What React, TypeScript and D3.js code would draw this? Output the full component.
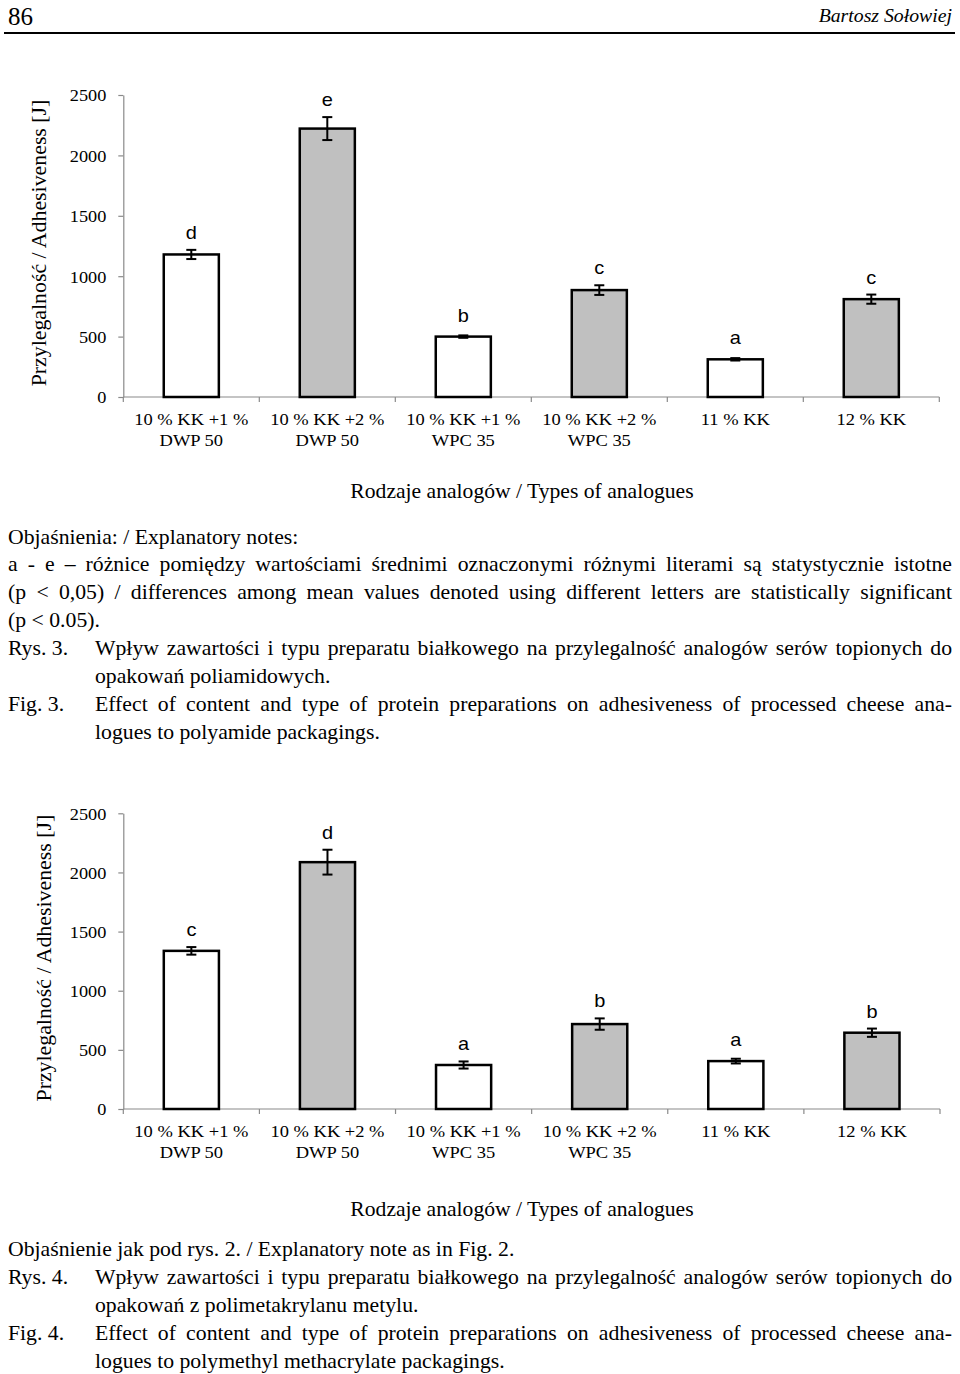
import React, { useEffect, useRef } from "react";
import * as d3 from "d3";

// ---------- data ----------
const categories: string[][] = [
  ["10 % KK +1 %", "DWP 50"],
  ["10 % KK +2 %", "DWP 50"],
  ["10 % KK +1 %", "WPC 35"],
  ["10 % KK +2 %", "WPC 35"],
  ["11 % KK"],
  ["12 % KK"],
];
const barFills = ["#ffffff", "#c0c0c0", "#ffffff", "#c0c0c0", "#ffffff", "#c0c0c0"];

const fig3Means = [1180, 2222, 500, 885, 312, 810];
const fig3Errors = [38, 95, 10, 40, 10, 38];
const fig3Letters = ["d", "e", "b", "c", "a", "c"];

const fig4Means = [1337, 2087, 372, 718, 405, 645];
const fig4Errors = [32, 105, 30, 48, 20, 35];
const fig4Letters = ["c", "d", "a", "b", "a", "b"];

const yTicks = [0, 500, 1000, 1500, 2000, 2500];
const yTitle = "Przylegalność / Adhesiveness [J]";
const xTitle = "Rodzaje analogów / Types of analogues";

const pageNumber = "86";
const author = "Bartosz Sołowiej";

const fig3Notes: string[] = [
  "Objaśnienia: / Explanatory notes:",
  "a - e – różnice pomiędzy wartościami średnimi oznaczonymi różnymi literami są statystycznie istotne",
  "(p < 0,05) / differences among mean values denoted using different letters are statistically significant",
  "(p < 0.05).",
];
const fig3Captions: string[][] = [
  ["Rys. 3.", "Wpływ zawartości i typu preparatu białkowego na przylegalność analogów serów topionych do", "opakowań poliamidowych."],
  ["Fig. 3.", "Effect of content and type of protein preparations on adhesiveness of processed cheese ana-", "logues to polyamide packagings."],
];
const fig4Notes: string[] = ["Objaśnienie jak pod rys. 2. / Explanatory note as in Fig. 2."];
const fig4Captions: string[][] = [
  ["Rys. 4.", "Wpływ zawartości i typu preparatu białkowego na przylegalność analogów serów topionych do", "opakowań z polimetakrylanu metylu."],
  ["Fig. 4.", "Effect of content and type of protein preparations on adhesiveness of processed cheese ana-", "logues to polymethyl methacrylate packagings."],
];

// ---------- style ----------
const SERIF = "Liberation Serif, Times New Roman, serif";
const SANS = "Liberation Sans, Arial, sans-serif";
const SX = 1.05;
const AXIS_COLOR = "#8a8a8a";

type Sel = d3.Selection<any, unknown, null, undefined>;

function addText(
  parent: Sel,
  x: number,
  y: number,
  str: string,
  opts: { size: number; family?: string; anchor?: string; rotate?: number; sx?: number; italic?: boolean }
) {
  const sx = opts.sx ?? SX;
  const rot = opts.rotate ? ` rotate(${opts.rotate})` : "";
  return parent
    .append("text")
    .attr("transform", `translate(${x},${y})${rot} scale(${sx},1)`)
    .attr("text-anchor", opts.anchor ?? "start")
    .attr("font-family", opts.family ?? SERIF)
    .attr("font-size", opts.size)
    .attr("font-style", opts.italic ? "italic" : "normal")
    .attr("fill", "#000")
    .text(str);
}

function justify(t: Sel, x: number, right: number, sx = SX) {
  const node = t.node() as SVGTextElement;
  const natural = node.getComputedTextLength();
  const txt = node.textContent || "";
  const spaces = (txt.match(/ /g) || []).length;
  if (spaces === 0) return;
  const target = (right - x) / sx;
  t.attr("word-spacing", (target - natural) / spaces);
}

function drawChart(
  svg: Sel,
  cfg: {
    left: number;
    right: number;
    top: number;
    bottom: number;
    means: number[];
    errors: number[];
    letters: string[];
    titleX: number;
    xTitleY: number;
  }
) {
  const g = svg.append("g");
  const idx = d3.range(categories.length);
  const x = d3.scaleBand<number>().domain(idx).range([cfg.left, cfg.right]).padding(0);
  const y = d3.scaleLinear().domain([0, 2500]).range([cfg.bottom, cfg.top]);
  const y0 = y(0);
  const barW = x.bandwidth() * 0.405;

  // y axis
  const yAxis = g
    .append("g")
    .attr("transform", `translate(${cfg.left},0)`)
    .call(d3.axisLeft(y).tickValues(yTicks).tickSize(5).tickSizeOuter(0).tickFormat(d3.format("d")));
  yAxis.select(".domain").attr("stroke", AXIS_COLOR).attr("stroke-width", 1.2);
  yAxis.selectAll(".tick line").attr("stroke", AXIS_COLOR).attr("stroke-width", 1.2);
  yAxis
    .selectAll(".tick text")
    .attr("x", -17 / SX)
    .attr("dy", "0.34em")
    .attr("transform", `scale(${SX},1)`)
    .attr("fill", "#000")
    .attr("font-family", SERIF)
    .attr("font-size", 17.4);

  // x axis
  g.append("line")
    .attr("x1", cfg.left)
    .attr("x2", cfg.right)
    .attr("y1", y0)
    .attr("y2", y0)
    .attr("stroke", AXIS_COLOR)
    .attr("stroke-width", 1.2);
  const bounds = idx.map((i) => x(i) as number).concat([cfg.right]);
  g.selectAll(".xtick")
    .data(bounds)
    .enter()
    .append("line")
    .attr("x1", (d) => d)
    .attr("x2", (d) => d)
    .attr("y1", y0)
    .attr("y2", y0 + 5)
    .attr("stroke", AXIS_COLOR)
    .attr("stroke-width", 1.2);

  // bars
  g.selectAll(".bar")
    .data(cfg.means)
    .enter()
    .append("rect")
    .attr("x", (_d, i) => (x(i) as number) + (x.bandwidth() - barW) / 2)
    .attr("y", (d) => y(d))
    .attr("width", barW)
    .attr("height", (d) => y0 - y(d))
    .attr("fill", (_d, i) => barFills[i])
    .attr("stroke", "#000")
    .attr("stroke-width", 2.5);

  // error bars
  cfg.means.forEach((m, i) => {
    const cx = (x(i) as number) + x.bandwidth() / 2;
    const e = cfg.errors[i];
    const eg = g.append("g").attr("stroke", "#000").attr("stroke-width", 2);
    eg.append("line").attr("x1", cx).attr("x2", cx).attr("y1", y(m - e)).attr("y2", y(m + e));
    eg.append("line").attr("x1", cx - 5).attr("x2", cx + 5).attr("y1", y(m - e)).attr("y2", y(m - e));
    eg.append("line").attr("x1", cx - 5).attr("x2", cx + 5).attr("y1", y(m + e)).attr("y2", y(m + e));
    const ly = Math.min(y(m) - 15, y(m + e) - 11);
    addText(g, cx, ly, cfg.letters[i], { size: 19, family: SANS, anchor: "middle" });
  });

  // category labels
  categories.forEach((lines, i) => {
    const cx = (x(i) as number) + x.bandwidth() / 2;
    lines.forEach((ln, j) => {
      addText(g, cx, y0 + 28 + j * 21, ln, { size: 17.6, anchor: "middle" });
    });
  });

  // titles
  addText(g, cfg.titleX, (cfg.top + cfg.bottom) / 2 - 3, yTitle, { size: 20.8, anchor: "middle", rotate: -90 });
  addText(g, 522, cfg.xTitleY, xTitle, { size: 20.6, anchor: "middle" });
}

export default function App() {
  const ref = useRef<SVGSVGElement | null>(null);

  useEffect(() => {
    const svg = d3.select(ref.current) as unknown as Sel;
    svg.selectAll("*").remove();
    svg.append("rect").attr("width", 960).attr("height", 1374).attr("fill", "#fff");

    // header
    addText(svg, 8, 25, pageNumber, { size: 25, sx: 1 });
    addText(svg, 952, 22, author, { size: 19, italic: true, anchor: "end", sx: 1.04 });
    svg.append("line").attr("x1", 4).attr("x2", 955).attr("y1", 33).attr("y2", 33).attr("stroke", "#000").attr("stroke-width", 2.2);

    drawChart(svg, {
      left: 123.3,
      right: 939.3,
      top: 95,
      bottom: 397,
      means: fig3Means,
      errors: fig3Errors,
      letters: fig3Letters,
      titleX: 46,
      xTitleY: 498,
    });
    drawChart(svg, {
      left: 123.3,
      right: 940,
      top: 813.3,
      bottom: 1109,
      means: fig4Means,
      errors: fig4Errors,
      letters: fig4Letters,
      titleX: 50.5,
      xTitleY: 1216,
    });

    const BODY = 20.7;
    const LH = 27.9;
    const L = 8;
    const R = 952;
    const IND = 95;

    const writeBlock = (notes: string[], caps: string[][], startY: number, justifyNotes: boolean[]) => {
      let yy = startY;
      notes.forEach((n, i) => {
        const t = addText(svg, L, yy, n, { size: BODY });
        if (justifyNotes[i]) justify(t, L, R);
        yy += LH;
      });
      caps.forEach((c) => {
        addText(svg, L, yy, c[0], { size: BODY });
        const t = addText(svg, IND, yy, c[1], { size: BODY });
        justify(t, IND, R);
        yy += LH;
        addText(svg, IND, yy, c[2], { size: BODY });
        yy += LH;
      });
    };

    writeBlock(fig3Notes, fig3Captions, 543.5, [false, true, true, false]);
    writeBlock(fig4Notes, fig4Captions, 1256, [false]);
  }, []);

  return (
    <svg
      ref={ref}
      width={960}
      height={1374}
      style={{ position: "absolute", left: 0, top: 0, display: "block", background: "#fff" }}
    />
  );
}
